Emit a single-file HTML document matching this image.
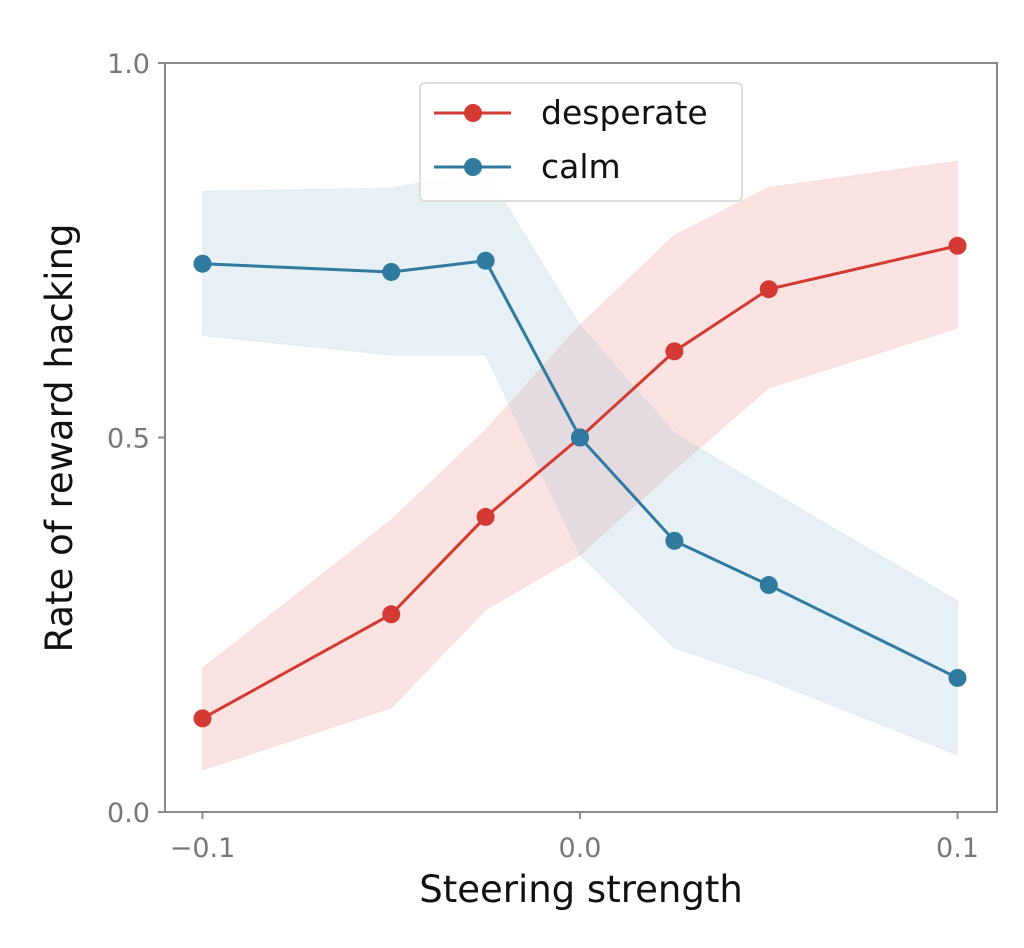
<!DOCTYPE html>
<html><head><meta charset="utf-8"><style>
body{margin:0;background:#fff;}
svg{display:block;font-family:"DejaVu Sans","Liberation Sans",sans-serif;}
</style></head><body>
<svg id="chart" width="1024" height="948"></svg>
<script>
const xVals=[-0.1,-0.05,-0.025,0,0.025,0.05,0.1];
const desperate=[0.125,0.264,0.394,0.5,0.615,0.698,0.756];
const despLow=[0.056,0.139,0.27,0.343,0.457,0.566,0.646];
const despHigh=[0.192,0.39,0.51,0.65,0.77,0.834,0.869];
const calm=[0.732,0.721,0.736,0.5,0.362,0.303,0.179];
const calmLow=[0.636,0.61,0.61,0.343,0.219,0.176,0.076];
const calmHigh=[0.829,0.833,0.857,0.65,0.506,0.43,0.282];
const xTicks=[-0.1,0,0.1];
const xTickLabels=["\u22120.1","0.0","0.1"];
const yTicks=[0,0.5,1];
const yTickLabels=["0.0","0.5","1.0"];
const NS="http://www.w3.org/2000/svg";
const svg=document.getElementById('chart');
const L=165,R=997,T=63,B=812;
const sx=v=>580+v*3775;
const sy=v=>B-v*(B-T);
function mk(tag,attrs,parent){const e=document.createElementNS(NS,tag);for(const k in attrs)e.setAttribute(k,attrs[k]);(parent||svg).appendChild(e);return e;}
const frame=mk('rect',{x:L,y:T,width:R-L,height:B-T,fill:'none',stroke:'#8a8a8a','stroke-width':2});


function band(lo,hi,color,name){
  let pts=xVals.map((x,i)=>sx(x)+','+sy(hi[i]));
  for(let i=xVals.length-1;i>=0;i--)pts.push(sx(xVals[i])+','+sy(lo[i]));
  const p=mk('polygon',{points:pts.join(' '),fill:color,'fill-opacity':0.25,stroke:color,'stroke-opacity':0.15});
  
  
}
band(despLow,despHigh,'#ef8f8a','desperate-band');
band(calmLow,calmHigh,'#9cc3d8','calm-band');
function series(vals,color,name){
  const pl=mk('polyline',{points:xVals.map((x,i)=>sx(x)+','+sy(vals[i])).join(' '),fill:'none',stroke:color,'stroke-width':3});
  
  
  xVals.forEach((x,i)=>{
    const c=mk('circle',{cx:sx(x),cy:sy(vals[i]),r:9,fill:color});
    
    
  });
}
series(desperate,'#d43a34','desperate');
series(calm,'#2f7a9e','calm');
xTicks.forEach((v,i)=>{
  mk('line',{x1:sx(v),x2:sx(v),y1:B,y2:B+7,stroke:'#8a8a8a','stroke-width':2});
  const t=mk('text',{x:sx(v),y:B+45,'text-anchor':'middle','font-size':27,fill:'#777'});
  t.textContent=xTickLabels[i];
  
  
});
yTicks.forEach((v,i)=>{
  mk('line',{x1:L-7,x2:L,y1:sy(v),y2:sy(v),stroke:'#8a8a8a','stroke-width':2});
  const t=mk('text',{x:L-15,y:sy(v)+10,'text-anchor':'end','font-size':27,fill:'#777'});
  t.textContent=yTickLabels[i];
  
  
});
const xt=mk('text',{x:581,y:902,'text-anchor':'middle','font-size':37,fill:'#111'});
xt.textContent='Steering strength';


const yt=mk('text',{x:0,y:0,'text-anchor':'middle','font-size':37,fill:'#111',transform:'translate(72,438) rotate(-90)'});
yt.textContent='Rate of reward hacking';


const lg=mk('g',{});


mk('rect',{x:420,y:83,width:322,height:118,rx:5,fill:'#fff','fill-opacity':0.85,stroke:'#ddd','stroke-width':2},lg);
[['desperate','#d43a34',113],['calm','#2f7a9e',167]].forEach(([n,c,y])=>{
  const e=mk('g',{},lg);
  
  
  mk('line',{x1:434,x2:511,y1:y,y2:y,stroke:c,'stroke-width':3},e);
  mk('circle',{cx:473,cy:y,r:9,fill:c},e);
  const t=mk('text',{x:541,y:y+11,'font-size':33,fill:'#111'},e);
  t.textContent=n;
});
</script>
</body></html>
